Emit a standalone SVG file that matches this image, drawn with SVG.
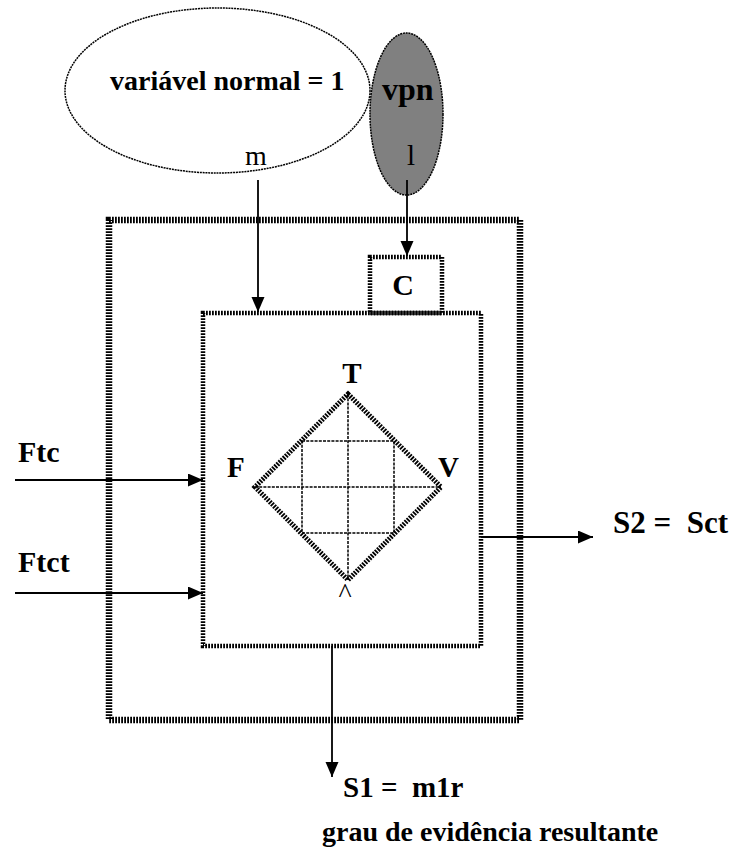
<svg xmlns="http://www.w3.org/2000/svg" width="732" height="850" viewBox="0 0 732 850">
<style>
.hatch6{fill:none;stroke:#000;stroke-width:6.5;stroke-dasharray:1.8 1.2}
.hatch4{fill:none;stroke:#000;stroke-width:4.5;stroke-dasharray:1.8 1.2}
.hatchd{fill:none;stroke:#000;stroke-width:5;stroke-dasharray:1.8 1.2}
.thin{fill:none;stroke:#000;stroke-width:1.5;stroke-dasharray:3 1.2}
.ell{stroke:#000;stroke-width:1.5;stroke-dasharray:2 0.8}
.conn{fill:none;stroke:#000;stroke-width:1.8}
.b{font-family:"Liberation Serif","Times New Roman",serif;font-weight:bold;fill:#000}
.r{font-family:"Liberation Serif","Times New Roman",serif;font-weight:normal;fill:#000}
</style>
<defs>
<marker id="arr" markerUnits="userSpaceOnUse" markerWidth="16" markerHeight="14" refX="15" refY="6.5" orient="auto">
<path d="M0,0 L15,6.5 L0,13 Z" fill="#000"/>
</marker>
</defs>
<rect width="732" height="850" fill="#fff"/>

<g id="outer-box">
<rect class="hatch6" x="109" y="220" width="411" height="500"/>
</g>

<g id="inner-box">
<rect class="hatch4" x="203" y="313" width="278" height="333"/>
</g>

<g id="c-box">
<rect class="hatch4" x="370" y="257" width="72" height="56"/>
<text class="b" x="403" y="295" font-size="30" text-anchor="middle">C</text>
</g>

<g id="variavel-normal">
<ellipse class="ell" cx="217.5" cy="90.5" rx="152.5" ry="82.5" fill="#fff"/>
<text class="b" x="110" y="90" font-size="28">variável normal = 1</text>
<text class="r" x="245" y="165" font-size="28">m</text>
</g>

<g id="vpn">
<ellipse class="ell" cx="406.5" cy="114" rx="36.5" ry="81" fill="#808080"/>
<text class="b" x="382" y="100" font-size="32">vpn</text>
<text class="r" x="411" y="165" font-size="29" text-anchor="middle">l</text>
</g>

<g id="lattice">
<polygon class="hatchd" points="348,394 441,487 348,580 255,487"/>
<rect class="thin" x="302" y="441" width="92" height="92"/>
<line class="thin" x1="348" y1="394" x2="348" y2="580"/>
<line class="thin" x1="255" y1="487" x2="441" y2="487"/>
<text class="b" x="352" y="383" font-size="29" text-anchor="middle">T</text>
<text class="b" x="227" y="477" font-size="29">F</text>
<text class="b" x="438" y="477" font-size="29">V</text>
<text class="r" x="345" y="602" font-size="28" text-anchor="middle">^</text>
</g>

<g id="labels">
<text class="b" x="18" y="462" font-size="30">Ftc</text>
<text class="b" x="18" y="572" font-size="30">Ftct</text>
<text class="b" x="613" y="533" font-size="31" style="white-space:pre">S2 =  Sct</text>
<text class="b" x="343" y="797" font-size="29" style="white-space:pre">S1 =  m1r</text>
<text class="b" x="322" y="841" font-size="28">grau de evidência resultante</text>
</g>

<g id="connectors">
<line class="conn" x1="258" y1="180" x2="258" y2="312" marker-end="url(#arr)"/>
<line class="conn" x1="407" y1="180" x2="407" y2="256" marker-end="url(#arr)"/>
<line class="conn" x1="15" y1="480" x2="203" y2="480" marker-end="url(#arr)"/>
<line class="conn" x1="15" y1="593" x2="203" y2="593" marker-end="url(#arr)"/>
<line class="conn" x1="481" y1="537" x2="593" y2="537" marker-end="url(#arr)"/>
<line class="conn" x1="332" y1="646" x2="332" y2="777" marker-end="url(#arr)"/>
</g>
</svg>
